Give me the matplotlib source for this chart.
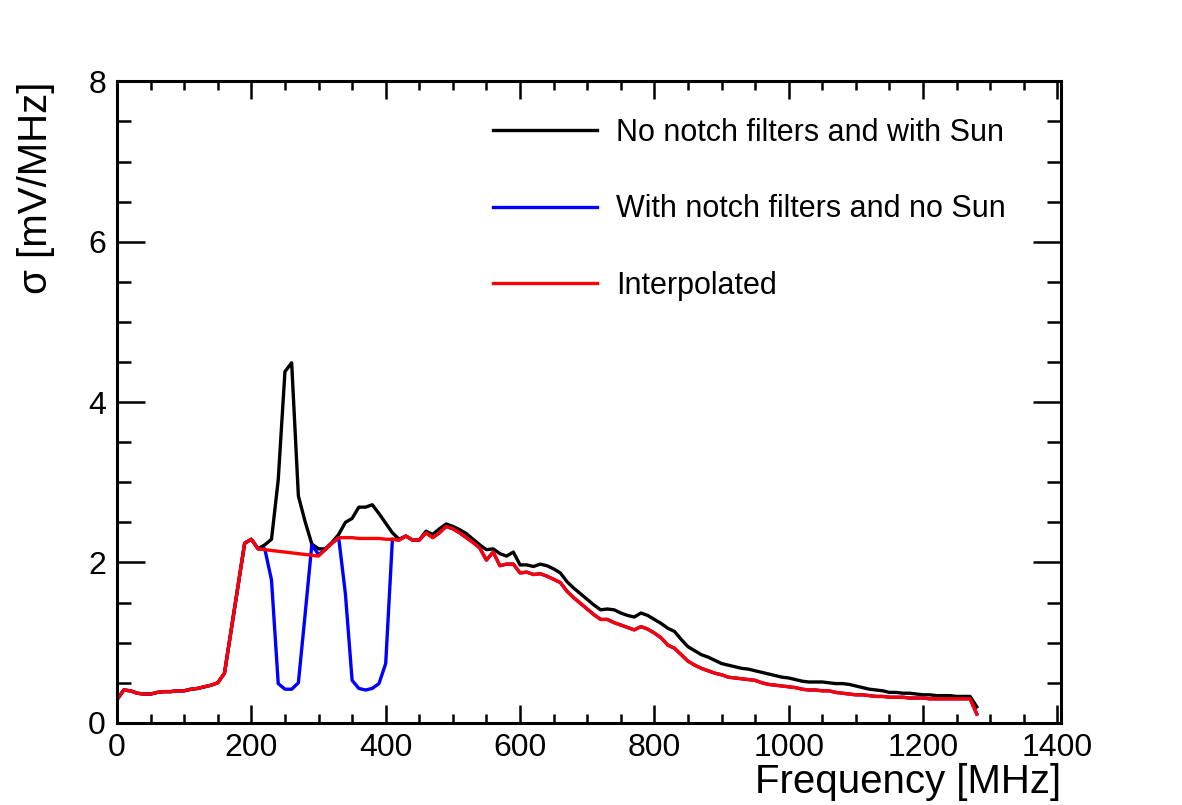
import numpy as np
import matplotlib
matplotlib.use("Agg")
import matplotlib.pyplot as plt
from matplotlib.ticker import MultipleLocator

plt.rcParams['font.family'] = ['Liberation Sans', 'DejaVu Sans']

# frequency grid [MHz], one point every 10 MHz
freq = np.arange(0, 1290, 10)

# values shared by all three curves, 0 .. 200 MHz
low = [0.29, 0.41, 0.40, 0.37, 0.36, 0.36, 0.38, 0.39, 0.39, 0.40, 0.40,
       0.42, 0.43, 0.45, 0.47, 0.50, 0.62, 1.16, 1.70, 2.24, 2.29]

# no notch filters, with Sun (210 .. 1280 MHz)
sun = [2.17, 2.22, 2.29, 3.03, 4.38, 4.49, 2.83, 2.51, 2.23, 2.17, 2.17,
       2.25, 2.35, 2.50, 2.55, 2.69, 2.69, 2.72, 2.61, 2.49, 2.37,
       2.29, 2.33, 2.28, 2.28, 2.39, 2.35, 2.42, 2.48, 2.45, 2.41,
       2.36, 2.29, 2.22, 2.16, 2.17, 2.11, 2.08, 2.13, 1.97, 1.97,
       1.95, 1.98, 1.96, 1.92, 1.87, 1.76, 1.68, 1.61, 1.54, 1.47,
       1.41, 1.42, 1.41, 1.37, 1.34, 1.32, 1.37, 1.34, 1.29, 1.24,
       1.18, 1.14, 1.04, 0.95, 0.90, 0.85, 0.82, 0.78, 0.74, 0.72,
       0.70, 0.68, 0.67, 0.65, 0.63, 0.61, 0.59, 0.57, 0.56, 0.54,
       0.52, 0.51, 0.51, 0.51, 0.50, 0.49, 0.49, 0.48, 0.46, 0.44,
       0.42, 0.41, 0.40, 0.38, 0.38, 0.37, 0.37, 0.36, 0.35, 0.35,
       0.34, 0.34, 0.34, 0.33, 0.33, 0.33, 0.20]

# interpolated (210 .. 1280 MHz)
interp = [2.17, 2.16, 2.15, 2.14, 2.13, 2.12, 2.11, 2.10, 2.09, 2.08, 2.16,
          2.24, 2.31, 2.31, 2.31, 2.30, 2.30, 2.30, 2.30, 2.29, 2.29,
          2.28, 2.33, 2.28, 2.28, 2.37, 2.31, 2.37, 2.45, 2.42, 2.37,
          2.31, 2.25, 2.18, 2.03, 2.13, 1.96, 1.98, 1.98, 1.87, 1.88,
          1.85, 1.86, 1.83, 1.79, 1.75, 1.64, 1.56, 1.49, 1.42, 1.35,
          1.29, 1.29, 1.25, 1.22, 1.19, 1.16, 1.20, 1.17, 1.12, 1.06,
          0.97, 0.93, 0.85, 0.77, 0.72, 0.68, 0.65, 0.62, 0.60, 0.57,
          0.56, 0.55, 0.54, 0.53, 0.50, 0.48, 0.47, 0.46, 0.45, 0.44,
          0.42, 0.41, 0.41, 0.40, 0.40, 0.38, 0.37, 0.36, 0.35, 0.35,
          0.34, 0.33, 0.33, 0.32, 0.32, 0.32, 0.31, 0.31, 0.31, 0.30,
          0.30, 0.30, 0.30, 0.30, 0.30, 0.30, 0.11]

# with notch filters, no Sun: differs from interpolated only 210 .. 410 MHz
notch = [2.17, 2.17, 1.78, 0.49, 0.42, 0.42, 0.50, 1.35, 2.22, 2.10, 2.16,
         2.24, 2.31, 1.61, 0.53, 0.43, 0.41, 0.43, 0.49, 0.74, 2.29]

y_sun = np.array(low + sun)
y_interp = np.array(low + interp)
y_notch = np.array(low + notch + interp[len(notch):])

fig = plt.figure(figsize=(11.82, 8.05), dpi=100)
ax = fig.add_axes([0.099, 0.102, 0.799, 0.797])

ax.plot(freq, y_sun, color='black', lw=2.4, label='No notch filters and with Sun')
ax.plot(freq, y_notch, color='#0000ff', lw=2.4, label='With notch filters and no Sun')
ax.plot(freq, y_interp, color='#ff0000', lw=2.4, label='Interpolated')

ax.set_xlim(0, 1406)
ax.set_ylim(0, 8)
ax.xaxis.set_major_locator(MultipleLocator(200))
ax.xaxis.set_minor_locator(MultipleLocator(50))
ax.yaxis.set_major_locator(MultipleLocator(2))
ax.yaxis.set_minor_locator(MultipleLocator(0.5))

for s in ax.spines.values():
    s.set_linewidth(2.2)

ax.tick_params(axis='both', which='both', direction='in', width=1.8,
               top=True, right=True, labelsize=23)
ax.tick_params(axis='x', which='major', length=13, pad=7)
ax.tick_params(axis='x', which='minor', length=6.5)
ax.tick_params(axis='y', which='major', length=20, pad=8)
ax.tick_params(axis='y', which='minor', length=10)

ax.set_xlabel('Frequency [MHz]', fontsize=29, loc='right', labelpad=0)
ax.set_ylabel('σ [mV/MHz]', fontsize=29, loc='top', labelpad=24)

ax.legend(loc='upper left', bbox_to_anchor=(0.398, 0.943), frameon=False,
          fontsize=22, handlelength=3.4, handletextpad=0.62,
          labelspacing=1.52, borderpad=0, borderaxespad=0)

fig.savefig('out.png', dpi=100)
